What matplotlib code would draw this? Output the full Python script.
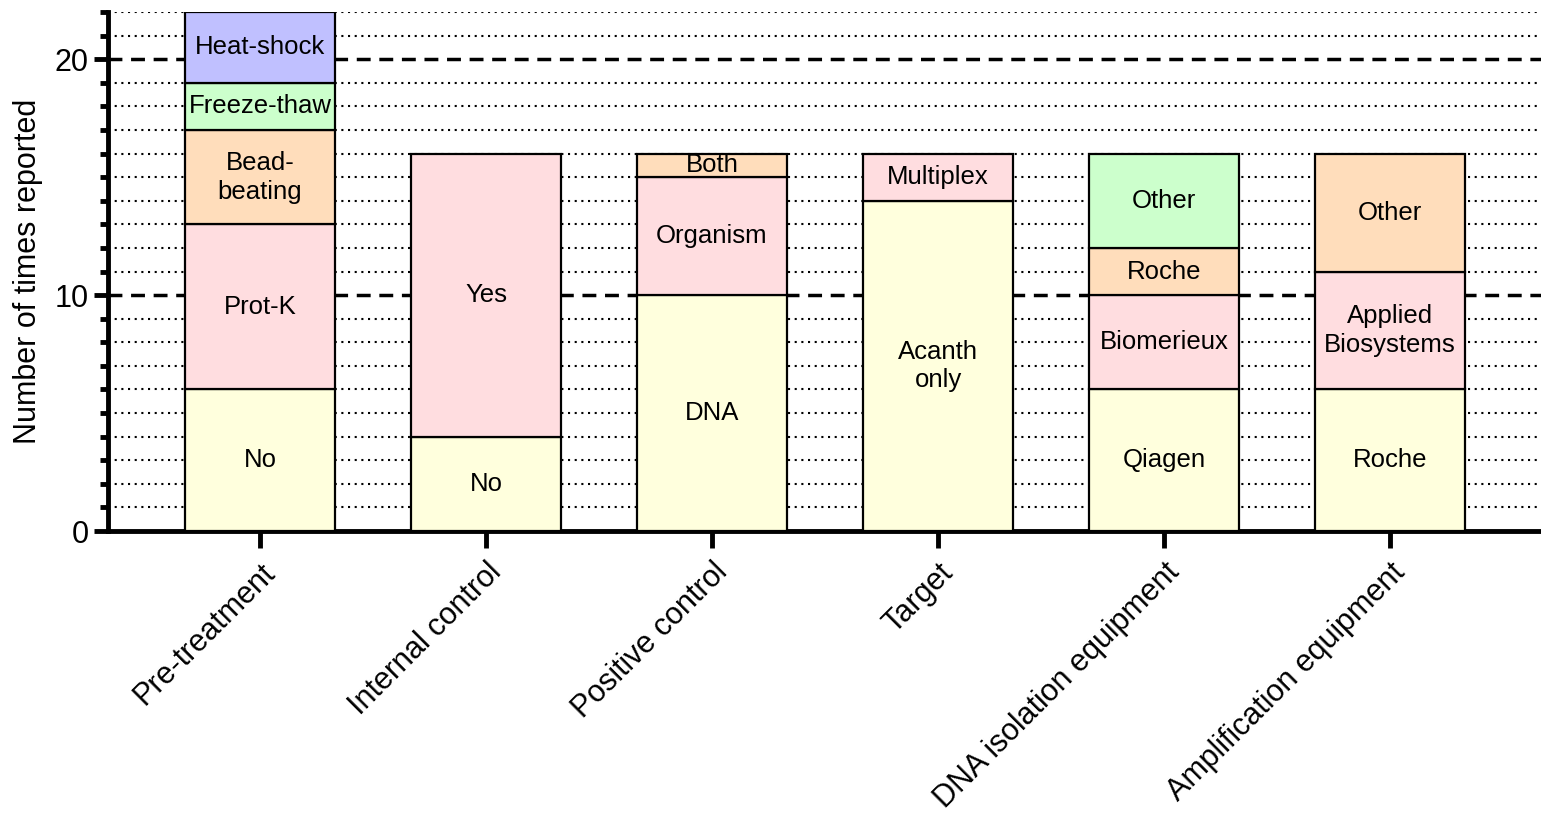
import numpy as np
import matplotlib.pyplot as plt

plt.rcParams['font.family'] = ['Liberation Sans', 'DejaVu Sans']

groups = ["Pre-treatment", "Internal control", "Positive control", "Target",
          "DNA isolation equipment", "Amplification equipment"]

# stacked segments per group, bottom to top: (label, count, colour key)
segments = [
    [("No", 6, "yellow"), ("Prot-K", 7, "pink"), ("Bead-\nbeating", 4, "peach"),
     ("Freeze-thaw", 2, "green"), ("Heat-shock", 3, "blue")],
    [("No", 4, "yellow"), ("Yes", 12, "pink")],
    [("DNA", 10, "yellow"), ("Organism", 5, "pink"), ("Both", 1, "peach")],
    [("Acanth\nonly", 14, "yellow"), ("Multiplex", 2, "pink")],
    [("Qiagen", 6, "yellow"), ("Biomerieux", 4, "pink"), ("Roche", 2, "peach"),
     ("Other", 4, "green")],
    [("Roche", 6, "yellow"), ("Applied\nBiosystems", 5, "pink"), ("Other", 5, "peach")],
]

colors = {"yellow": "#FFFFDD", "pink": "#FFDDE0", "peach": "#FFDDBB",
          "green": "#CCFFCC", "blue": "#C0C0FF"}

fig = plt.figure(figsize=(15.41, 8.19), dpi=100)
ax = fig.add_axes([0.070, 0.3516, 0.93, 0.6337])

x = np.arange(len(groups))
width = 0.66

for i, segs in enumerate(segments):
    bottom = 0
    for label, val, ck in segs:
        ax.bar(x[i], val, width, bottom=bottom, color=colors[ck],
               edgecolor="black", linewidth=1.6, zorder=3)
        ax.text(x[i], bottom + val / 2, label, ha="center", va="center",
                fontsize=18.5, linespacing=1.25, zorder=4)
        bottom += val

ax.set_xlim(-0.673, 5.668)
ax.set_ylim(0, 22)

# grid: dotted at each integer, dashed at 10 and 20
for yv in range(1, 23):
    if yv % 10 == 0:
        ax.axhline(yv, color="black", linewidth=2.5, linestyle=(0, (4, 2.5)), zorder=1)
    else:
        ax.axhline(yv, color="black", linewidth=1.5, linestyle=(0, (1, 2.2)), zorder=1)

ax.set_yticks([0, 10, 20])
ax.set_yticks(range(0, 23), minor=True)
ax.tick_params(axis="y", which="major", length=10, width=3.5, labelsize=22, pad=4)
ax.tick_params(axis="y", which="minor", length=6, width=3.5)

ax.set_xticks(x)
ax.set_xticklabels(groups, rotation=45, ha="right", rotation_mode="anchor", fontsize=22)
ax.tick_params(axis="x", which="major", length=12, width=3.5, pad=7)
ax.tick_params(axis="x", which="minor", length=0)

for side in ["top", "right"]:
    ax.spines[side].set_visible(False)
for side in ["left", "bottom"]:
    ax.spines[side].set_linewidth(3.5)

ax.set_ylabel("Number of times reported", fontsize=22, labelpad=8)

fig.savefig("out.png", dpi=100)
